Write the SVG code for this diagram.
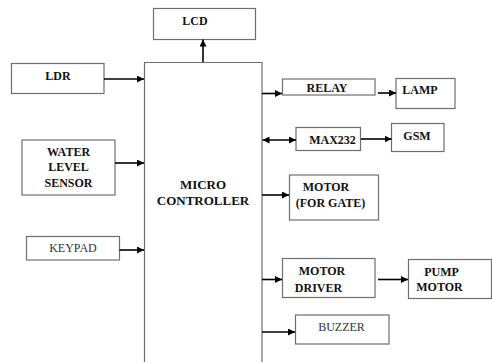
<svg xmlns="http://www.w3.org/2000/svg" width="492" height="362" viewBox="0 0 492 362">
<style>
.box{fill:#fff;stroke:#6e6e6e;stroke-width:1.2}
text{font-family:'Liberation Serif',serif;font-weight:bold;font-size:12px;fill:#111;text-anchor:middle}
text.r{font-weight:normal;fill:#333}
text.big{font-size:13px}
.c{stroke:#000;stroke-width:1.6;fill:none}
</style>
<defs>
<marker id="ah" viewBox="0 0 10 10" refX="10" refY="5" markerWidth="7" markerHeight="7" markerUnits="userSpaceOnUse" orient="auto-start-reverse">
<path d="M0,0 L10,5 L0,10 z" fill="#000"/>
</marker>
</defs>
<rect width="492" height="362" fill="#fff"/>
<g id="lcd"><rect class="box" x="153.5" y="8.5" width="102" height="31"/><text x="195" y="24.5">LCD</text></g>
<g id="micro"><path class="box" d="M144.5,363 V62.5 H262 V363"/><text class="big" x="203" y="188.5">MICRO</text><text class="big" x="203" y="205">CONTROLLER</text></g>
<g id="ldr"><rect class="box" x="11.5" y="63.5" width="92.5" height="30"/><text x="58" y="79.5">LDR</text></g>
<g id="water"><rect class="box" x="22" y="140" width="93" height="55"/><text x="68.5" y="156">WATER</text><text x="68.5" y="171">LEVEL</text><text x="68.5" y="186.5">SENSOR</text></g>
<g id="keypad"><rect class="box" x="26.5" y="236.5" width="93" height="23.5"/><text class="r" x="73" y="252">KEYPAD</text></g>
<g id="relay"><rect class="box" x="282.5" y="79" width="92.5" height="16"/><text x="327" y="92">RELAY</text></g>
<g id="lamp"><rect class="box" x="396" y="78.5" width="59" height="30"/><text x="420" y="93.5">LAMP</text></g>
<g id="max232"><rect class="box" x="296" y="127.5" width="64.5" height="23"/><text x="332.5" y="144">MAX232</text></g>
<g id="gsm"><rect class="box" x="391.5" y="123.5" width="52.5" height="28"/><text x="417" y="139.5">GSM</text></g>
<g id="motorgate"><rect class="box" x="289.5" y="175" width="89" height="45"/><text x="326" y="191">MOTOR</text><text x="330.5" y="207">(FOR GATE)</text></g>
<g id="motordriver"><rect class="box" x="282.5" y="258.5" width="92.5" height="39"/><text x="322" y="275">MOTOR</text><text x="318.5" y="292">DRIVER</text></g>
<g id="pumpmotor"><rect class="box" x="408.5" y="259.5" width="83" height="39"/><text x="441.5" y="275.5">PUMP</text><text x="439.5" y="291">MOTOR</text></g>
<g id="buzzer"><rect class="box" x="295.5" y="315" width="93.5" height="29"/><text class="r" x="341.5" y="331">BUZZER</text></g>
<g id="connectors">
<line class="c" x1="203" y1="62" x2="203" y2="39.5" marker-end="url(#ah)"/>
<line class="c" x1="104" y1="79" x2="144" y2="79" marker-end="url(#ah)"/>
<line class="c" x1="115" y1="163" x2="144" y2="163" marker-end="url(#ah)"/>
<line class="c" x1="119.5" y1="250" x2="144" y2="250" marker-end="url(#ah)"/>
<line class="c" x1="262" y1="93.5" x2="282" y2="93.5" marker-end="url(#ah)"/>
<line class="c" x1="378" y1="93" x2="396" y2="93" marker-end="url(#ah)"/>
<line class="c" x1="262.5" y1="140" x2="296" y2="140" marker-start="url(#ah)" marker-end="url(#ah)"/>
<line class="c" x1="361" y1="139" x2="391.5" y2="139" marker-end="url(#ah)"/>
<line class="c" x1="262" y1="195" x2="289" y2="195" marker-end="url(#ah)"/>
<line class="c" x1="262" y1="279.5" x2="282" y2="279.5" marker-end="url(#ah)"/>
<line class="c" x1="378" y1="279.5" x2="408" y2="279.5" marker-end="url(#ah)"/>
<line class="c" x1="262" y1="332" x2="295" y2="332" marker-end="url(#ah)"/>
</g>
</svg>
